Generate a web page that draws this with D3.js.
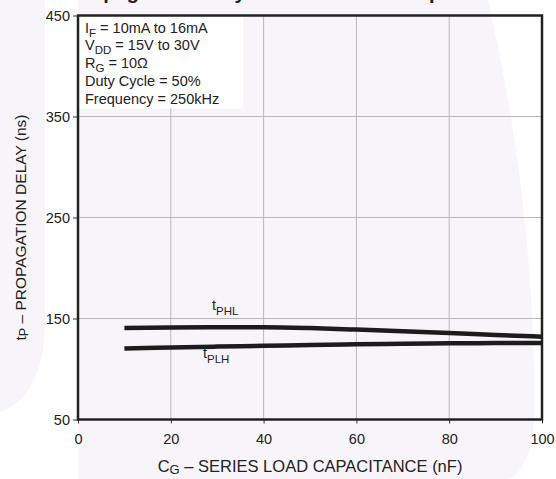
<!DOCTYPE html>
<html>
<head>
<meta charset="utf-8">
<script src="https://cdn.jsdelivr.net/npm/d3@7"></script>
<style>
  body { margin: 0; background: #fff; }
  svg { display: block; font-family: "Liberation Sans", Arial, sans-serif; }
</style>
</head>
<body>
<div id="chart"></div>
<script>
const WIDTH = 556, HEIGHT = 479;
const MARGIN = { left: 78, top: 15.5, right: 14, bottom: 59.5 };
const INNER_WIDTH = WIDTH - MARGIN.left - MARGIN.right;
const INNER_HEIGHT = HEIGHT - MARGIN.top - MARGIN.bottom;

// data
const capacitance = [10, 20, 30, 40, 50, 60, 70, 80, 90, 100];
const tPHL = [140.7, 141.0, 141.3, 141.3, 140.5, 139.0, 137.3, 135.7, 133.7, 132.0];
const tPLH = [120.3, 121.3, 122.2, 122.9, 123.8, 124.5, 125.0, 125.4, 125.7, 125.8];
const xTicks = [0, 20, 40, 60, 80, 100];
const yTicks = [50, 150, 250, 350, 450];
const conditions = [
    ["I", "F", " = 10mA to 16mA"],
    ["V", "DD", " = 15V to 30V"],
    ["R", "G", " = 10Ω"],
    ["Duty Cycle = 50%", "", ""],
    ["Frequency = 250kHz", "", ""]
];

const svg = d3.select("#chart")
    .append("svg")
    .attr("width", WIDTH)
    .attr("height", HEIGHT);

// faint watermark in the background
const WM = "#f7f5f9";
svg.append("path")
    .attr("d", "M0,0 H45 V320 Q45,395 0,412 Z")
    .attr("fill", WM);
svg.append("path")
    .attr("d", "M78,0 H488 C515,120 536,260 534,420 C532,455 520,479 505,479 H78 Z")
    .attr("fill", WM);

// title, cut off at the top of the picture
svg.append("text")
    .attr("x", -30)
    .attr("y", -1)
    .style("font-size", "20px")
    .style("font-weight", "bold")
    .attr("fill", "#222")
    .text("Figure 15. Propagation Delay vs. Series Load Capacitance");

const g = svg.append("g")
    .attr("transform", `translate(${MARGIN.left},${MARGIN.top})`);

const x = d3.scaleLinear().domain([0, 100]).range([0, INNER_WIDTH]);
const y = d3.scaleLinear().domain([50, 450]).range([INNER_HEIGHT, 0]);

// --- Grid ---
g.selectAll(".vgrid")
    .data(xTicks.slice(1, -1))
    .join("line")
    .attr("x1", d => x(d)).attr("x2", d => x(d))
    .attr("y1", 0).attr("y2", INNER_HEIGHT)
    .attr("stroke", "#b8b8b8").attr("stroke-width", 1);

g.selectAll(".hgrid")
    .data(yTicks.slice(1, -1))
    .join("line")
    .attr("x1", 0).attr("x2", INNER_WIDTH)
    .attr("y1", d => y(d)).attr("y2", d => y(d))
    .attr("stroke", "#b8b8b8").attr("stroke-width", 1);

// white box behind the test conditions hides the grid
g.append("rect")
    .attr("x", 0).attr("y", 0)
    .attr("width", 165).attr("height", 93)
    .attr("fill", "#fff");

// --- Axes ---
const xAxis = g.append("g")
    .attr("transform", `translate(0,${INNER_HEIGHT})`)
    .call(d3.axisBottom(x).tickValues(xTicks).tickSize(4).tickPadding(10));
const yAxis = g.append("g")
    .call(d3.axisLeft(y).tickValues(yTicks).tickSize(5).tickPadding(3));

[xAxis, yAxis].forEach(a => {
    a.select(".domain").remove();
    a.selectAll("line").attr("stroke", "#333");
    a.selectAll("text")
        .attr("fill", "#222")
        .style("font-size", "14.5px")
        .style("font-family", "Liberation Sans, Arial, sans-serif");
});

// frame
g.append("rect")
    .attr("width", INNER_WIDTH)
    .attr("height", INNER_HEIGHT)
    .attr("fill", "none")
    .attr("stroke", "#222")
    .attr("stroke-width", 2.5);

// --- Curves ---
const line = d3.line()
    .x((d, i) => x(capacitance[i]))
    .y(d => y(d))
    .curve(d3.curveMonotoneX);

[tPHL, tPLH].forEach(s => {
    g.append("path")
        .datum(s)
        .attr("fill", "none")
        .attr("stroke", "#1c1c1c")
        .attr("stroke-width", 4.5)
        .attr("d", line);
});

// --- Curve labels ---
function subLabel(px, py, main, sub) {
    const t = svg.append("text")
        .attr("x", px).attr("y", py)
        .attr("fill", "#222")
        .style("font-size", "14.5px");
    t.append("tspan").text(main);
    t.append("tspan").attr("dy", 5).style("font-size", "11.5px").text(sub);
    return t;
}
subLabel(212, 310, "t", "PHL");
subLabel(203, 358, "t", "PLH");

// --- Conditions ---
conditions.forEach((c, i) => {
    const t = svg.append("text")
        .attr("x", 85).attr("y", 32.5 + i * 17.8)
        .attr("fill", "#222")
        .style("font-size", "14.5px");
    t.append("tspan").text(c[0]);
    if (c[1]) {
        t.append("tspan").attr("dy", 4).style("font-size", "11.5px").text(c[1]);
        t.append("tspan").attr("dy", -4).text(c[2]);
    }
});

// --- Axis Labels ---
const xl = svg.append("text")
    .attr("x", MARGIN.left + INNER_WIDTH / 2)
    .attr("y", 472)
    .attr("text-anchor", "middle")
    .attr("fill", "#222")
    .style("font-size", "16.5px");
xl.append("tspan").text("C");
xl.append("tspan").attr("dy", 2).style("font-size", "13px").text("G");
xl.append("tspan").attr("dy", -2).text(" – SERIES LOAD CAPACITANCE (nF)");

const yl = svg.append("text")
    .attr("transform", `translate(26,${MARGIN.top + INNER_HEIGHT / 2 + 10}) rotate(-90)`)
    .attr("text-anchor", "middle")
    .attr("fill", "#222")
    .style("font-size", "15.5px");
yl.append("tspan").text("t");
yl.append("tspan").attr("dy", 2).style("font-size", "12.5px").text("P");
yl.append("tspan").attr("dy", -2).text(" – PROPAGATION DELAY (ns)");
</script>
</body>
</html>
